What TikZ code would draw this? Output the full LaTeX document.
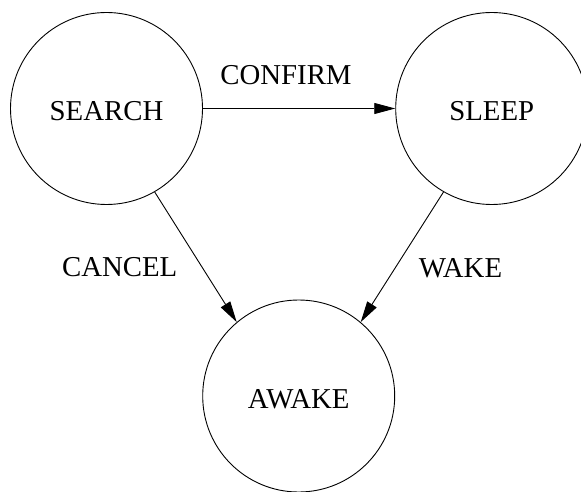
\documentclass[tikz,border=0pt]{standalone}
\usepackage{fontspec}
\setmainfont{Liberation Serif}
\usetikzlibrary{arrows.meta}
\begin{document}
\begin{tikzpicture}[x=1pt,y=1pt,
  state/.style={draw,circle,line width=0.9pt,minimum size=192pt,inner sep=0pt,
    text height=24.5pt,text depth=0pt,font=\fontsize{28.8}{30}\selectfont},
  edgelabel/.style={anchor=base,inner sep=0pt,font=\fontsize{28.8}{30}\selectfont},
  trans/.style={line width=0.9pt,-{Triangle[length=21pt,width=11pt]}}]
\useasboundingbox (0,0) rectangle (581,-492);
\node[state] (search) at (106.5,-108.5) {SEARCH};
\node[state] (sleep)  at (491.7,-108.5) {SLEEP};
\node[state] (awake)  at (298.7,-396)   {AWAKE};
\draw[trans] (search) -- (sleep);
\draw[trans] (search.-60.4) -- (awake.130.2);
\draw[trans] (sleep.-120.3) -- (awake.50.4);
\node[edgelabel] (lconfirm) at (286,-85)    {CONFIRM};
\node[edgelabel] (lcancel)  at (119.7,-276.7) {CANCEL};
\node[edgelabel] (lwake)    at (460.5,-277) {WAKE};
\end{tikzpicture}
\end{document}
